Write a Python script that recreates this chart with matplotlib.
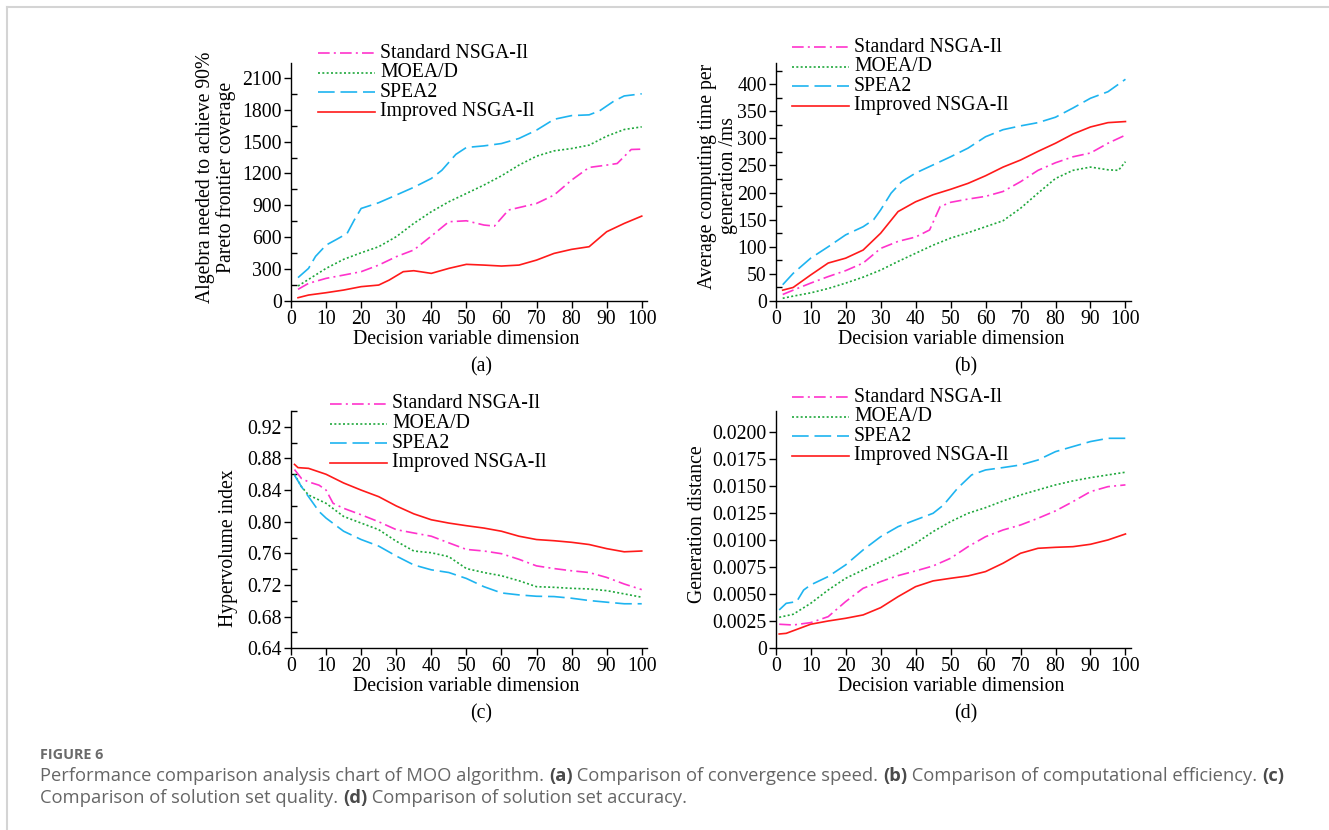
import matplotlib

matplotlib.use("Agg")
import matplotlib.pyplot as plt
from matplotlib.lines import Line2D
from matplotlib.ticker import FuncFormatter

W, H = 1329, 830
SERIF = "Liberation Serif"
FS = 14.2

NAMES = ["Standard NSGA-Il", "MOEA/D", "SPEA2", "Improved NSGA-Il"]
COLORS = ["#FF33CC", "#1FA83C", "#1EB4F0", "#FF1A1A"]
DASHES = [(7, 2.5, 1.2, 2.5), (1.2, 1.4), (10, 3.5), None]

# ---- (a) generations needed for 90% Pareto coverage
a_std_x = [2, 5, 10, 15, 20, 25, 30, 35, 40, 45, 50, 55, 58, 62, 70, 75, 80, 85, 90, 93, 97, 100]
a_std_y = [110, 166, 213, 244, 276, 338, 417, 480, 611, 746, 755, 715, 705, 856, 918, 997, 1138, 1257, 1279, 1294, 1426, 1429]
a_moe_x = [2, 10, 15, 20, 25, 30, 35, 40, 45, 50, 55, 60, 65, 70, 75, 80, 85, 90, 95, 100]
a_moe_y = [141, 307, 392, 454, 511, 605, 730, 840, 934, 1012, 1091, 1178, 1279, 1363, 1413, 1435, 1467, 1551, 1614, 1639]
a_spe_x = [2, 5, 7, 10, 13, 16, 18, 20, 25, 30, 35, 40, 43, 47, 50, 55, 60, 65, 70, 75, 80, 85, 88, 92, 95, 100]
a_spe_y = [220, 307, 420, 526, 580, 636, 760, 871, 925, 997, 1070, 1153, 1230, 1380, 1445, 1460, 1482, 1530, 1608, 1710, 1745, 1752, 1790, 1880, 1930, 1950]
a_imp_x = [2, 5, 10, 15, 20, 25, 28, 32, 35, 40, 45, 50, 55, 60, 65, 70, 75, 80, 85, 90, 95, 100]
a_imp_y = [31, 56, 78, 103, 135, 150, 197, 276, 285, 260, 307, 345, 338, 329, 338, 385, 448, 486, 511, 652, 730, 799]

# ---- (b) average computing time per generation (ms)
b_std_x = [2, 5, 10, 15, 20, 25, 30, 35, 40, 44, 47, 50, 55, 60, 65, 70, 75, 80, 85, 90, 95, 100]
b_std_y = [12, 20, 33, 45, 56, 70, 97, 110, 118, 131, 174, 182, 188, 193, 202, 220, 241, 255, 266, 273, 291, 306]
b_moe_x = [2, 5, 10, 15, 20, 25, 30, 35, 40, 45, 50, 55, 60, 65, 70, 75, 80, 85, 90, 95, 98, 100]
b_moe_y = [5, 9, 15, 23, 33, 44, 57, 73, 88, 103, 116, 126, 137, 148, 171, 199, 226, 241, 247, 242, 241, 257]
b_spe_x = [2, 5, 10, 15, 20, 25, 28, 30, 33, 36, 40, 50, 55, 60, 65, 70, 75, 80, 85, 90, 95, 100]
b_spe_y = [30, 51, 79, 100, 122, 137, 150, 168, 199, 220, 236, 266, 282, 303, 316, 323, 329, 339, 356, 374, 386, 409]
b_imp_x = [2, 5, 10, 15, 20, 25, 30, 35, 40, 45, 50, 55, 60, 65, 70, 75, 80, 85, 90, 95, 100]
b_imp_y = [20, 25, 48, 70, 79, 94, 125, 165, 183, 196, 206, 217, 231, 247, 260, 276, 291, 308, 321, 329, 331]

# ---- (c) hypervolume index
c_std_x = [1, 3, 5, 8, 10, 12, 15, 20, 25, 30, 35, 40, 45, 50, 55, 60, 65, 70, 75, 80, 85, 90, 95, 100]
c_std_y = [0.866, 0.8546, 0.8504, 0.8462, 0.840, 0.8233, 0.817, 0.8088, 0.800, 0.790, 0.7858, 0.7817,
           0.7733, 0.765, 0.763, 0.7596, 0.7525, 0.7442, 0.7408, 0.738, 0.7358, 0.7296, 0.7213, 0.7142]
c_moe_x = [1, 3, 5, 10, 15, 20, 25, 30, 35, 40, 45, 50, 55, 60, 65, 70, 75, 80, 85, 90, 95, 100]
c_moe_y = [0.860, 0.8442, 0.8338, 0.8233, 0.8067, 0.7983, 0.790, 0.7754, 0.763, 0.7608, 0.7558, 0.7408,
           0.7358, 0.7317, 0.7254, 0.7179, 0.7171, 0.7158, 0.715, 0.7129, 0.7088, 0.7046]
c_spe_x = [1, 3, 5, 8, 10, 15, 20, 25, 30, 35, 40, 45, 50, 55, 60, 65, 70, 75, 80, 85, 90, 95, 100]
c_spe_y = [0.8588, 0.8442, 0.8317, 0.8129, 0.8046, 0.788, 0.7775, 0.7692, 0.7567, 0.7454, 0.7392, 0.7358,
           0.7283, 0.7179, 0.710, 0.7075, 0.7058, 0.7054, 0.7033, 0.7004, 0.6983, 0.6963, 0.6963]
c_imp_x = [1, 2, 5, 10, 15, 20, 25, 30, 35, 40, 45, 50, 55, 60, 65, 70, 75, 80, 85, 90, 95, 100]
c_imp_y = [0.8725, 0.8684, 0.8675, 0.860, 0.849, 0.840, 0.8317, 0.820, 0.810, 0.8025, 0.7983, 0.795,
           0.792, 0.788, 0.7817, 0.7775, 0.776, 0.774, 0.7712, 0.766, 0.762, 0.763]

# ---- (d) generation distance
d_std_x = [1, 5, 10, 15, 20, 25, 30, 35, 40, 45, 50, 55, 60, 65, 70, 75, 80, 85, 90, 95, 100]
d_std_y = [0.00222, 0.00215, 0.00237, 0.00292, 0.00431, 0.00554, 0.00615, 0.00671, 0.00714, 0.0076, 0.00831,
           0.00938, 0.0103, 0.01092, 0.01138, 0.012, 0.01268, 0.01354, 0.01446, 0.01492, 0.01508]
d_moe_x = [1, 5, 10, 15, 20, 25, 30, 35, 40, 45, 50, 55, 60, 65, 70, 75, 80, 85, 90, 95, 100]
d_moe_y = [0.00286, 0.00314, 0.00415, 0.00538, 0.00646, 0.00723, 0.008, 0.00877, 0.00969, 0.01077, 0.01169,
           0.01246, 0.01298, 0.0136, 0.01415, 0.01462, 0.01508, 0.01545, 0.01575, 0.016, 0.01625]
d_spe_x = [1, 3, 6, 8, 10, 15, 20, 25, 30, 35, 40, 45, 48, 52, 56, 60, 65, 70, 75, 80, 85, 90, 95, 100]
d_spe_y = [0.00354, 0.00415, 0.00431, 0.00538, 0.00585, 0.00662, 0.0077, 0.00908, 0.0103, 0.01123, 0.01185,
           0.01246, 0.01323, 0.01477, 0.016, 0.01646, 0.01668, 0.01692, 0.01738, 0.01815, 0.01862, 0.01908,
           0.01938, 0.01938]
d_imp_x = [1, 3, 10, 15, 20, 25, 30, 35, 40, 45, 50, 55, 60, 65, 70, 75, 80, 85, 90, 95, 100]
d_imp_y = [0.00132, 0.00138, 0.00222, 0.00252, 0.00277, 0.00308, 0.00375, 0.00477, 0.00569, 0.00622, 0.00646,
           0.00668, 0.00708, 0.00785, 0.00877, 0.00923, 0.00932, 0.00938, 0.0096, 0.01, 0.01055]


def fx(x):
    return x / W


def fy(y):
    return 1 - y / H


fig = plt.figure(figsize=(W / 100, H / 100), dpi=100)


def panel(box, series, ylim, yticks, yminor, fmt, legend_xy):
    left, top, right, bottom = box
    ax = fig.add_axes([fx(left), fy(bottom), fx(right - left), (bottom - top) / H])
    for (xs, ys), c, d in zip(series, COLORS, DASHES):
        ln, = ax.plot(xs, ys, color=c, lw=1.2)
        if d:
            ln.set_dashes(d)
    ax.spines[["top", "right"]].set_visible(False)
    ax.spines[["left", "bottom"]].set_linewidth(1.0)
    ax.set_xlim(0, 101.5)
    ax.set_ylim(*ylim)
    ax.set_xticks(range(0, 101, 10))
    ax.set_yticks(yticks)
    if yminor:
        ax.set_yticks(yminor, minor=True)
        ax.tick_params(axis="y", which="minor", direction="in", length=4, width=1)
    ax.yaxis.set_major_formatter(FuncFormatter(fmt))
    ax.tick_params(which="major", direction="out", length=5, width=1, pad=1.5)
    for lab in ax.get_xticklabels() + ax.get_yticklabels():
        lab.set_fontfamily(SERIF)
        lab.set_fontsize(FS)
    # legend drawn by hand, sitting above the plot
    lx, ly = legend_xy
    for i, (name, c, d) in enumerate(zip(NAMES, COLORS, DASHES)):
        yy = ly + i * 19.6
        h = Line2D([fx(lx), fx(lx + 57)], [fy(yy), fy(yy)], color=c, lw=1.2,
                   transform=fig.transFigure)
        if d:
            h.set_dashes(d)
        fig.add_artist(h)
        fig.text(fx(lx + 62), fy(yy), name, ha="left", va="center",
                 fontfamily=SERIF, fontsize=FS)
    return ax


int_fmt = lambda v, p: f"{v:.0f}"
panel((291, 63, 647, 301),
      [(a_std_x, a_std_y), (a_moe_x, a_moe_y), (a_spe_x, a_spe_y), (a_imp_x, a_imp_y)],
      (0, 2240), range(0, 2101, 300), range(150, 2101, 300), int_fmt, (318, 53))
panel((775.7, 63, 1130.7, 301),
      [(b_std_x, b_std_y), (b_moe_x, b_moe_y), (b_spe_x, b_spe_y), (b_imp_x, b_imp_y)],
      (0, 439), range(0, 401, 50), range(25, 426, 50), int_fmt, (792, 47))
c_ticks = [0.64 + 0.04 * i for i in range(8)]
panel((291, 411, 647, 648.3),
      [(c_std_x, c_std_y), (c_moe_x, c_moe_y), (c_spe_x, c_spe_y), (c_imp_x, c_imp_y)],
      (0.64, 0.9366), c_ticks, [t + 0.02 for t in c_ticks], lambda v, p: f"{v:.2f}", (330, 404))
d_ticks = [0.0025 * i for i in range(9)]
panel((775.7, 411, 1130.7, 648.3),
      [(d_std_x, d_std_y), (d_moe_x, d_moe_y), (d_spe_x, d_spe_y), (d_imp_x, d_imp_y)],
      (0, 0.0219), d_ticks, None, lambda v, p: "0" if v == 0 else f"{v:.4f}", (792, 397))

# axis titles and panel letters
for cx, ly_, tag in [(466, 367, "(a)"), (951, 367, "(b)"), (466, 714, "(c)"), (951, 714, "(d)")]:
    fig.text(fx(cx), fy(ly_ - 28), "Decision variable dimension", ha="center", va="center",
             fontfamily=SERIF, fontsize=FS)
    fig.text(fx(cx + 15), fy(ly_), tag, ha="center", va="center", fontfamily=SERIF, fontsize=FS)

ylabels = [(216, 177, "Algebra needed to achieve 90%\nPareto frontier coverage"),
           (718, 176, "Average computing time per\ngeneration /ms"),
           (228, 548, "Hypervolume index"),
           (697, 524, "Generation distance")]
for x_, y_, s in ylabels:
    fig.text(fx(x_), fy(y_), s, rotation=90, ha="center", va="center", multialignment="center",
             fontfamily=SERIF, fontsize=FS, linespacing=1.12)

# thin page border (top and left)
fig.add_artist(Line2D([fx(7), 1], [fy(7), fy(7)], color="#D4D4D4", lw=1.5, transform=fig.transFigure))
fig.add_artist(Line2D([fx(7), fx(7)], [0, fy(7)], color="#D4D4D4", lw=1.5, transform=fig.transFigure))

# caption
CAP = "#666666"
fig.text(fx(40), fy(755), "FIGURE 6", ha="left", va="center", fontfamily="Open Sans",
         fontweight="bold", fontsize=10.4, color="#6A6A6A")

renderer = fig.canvas.get_renderer()


def runs(x, y, parts):
    for s, bold in parts:
        t = fig.text(fx(x), fy(y), s, ha="left", va="center", fontfamily="Open Sans",
                     fontsize=13.2, color=CAP if not bold else "#4A4A4A",
                     fontweight="bold" if bold else "normal")
        x += t.get_window_extent(renderer).width


runs(40, 776, [("Performance comparison analysis chart of MOO algorithm. ", False), ("(a)", True),
               (" Comparison of convergence speed. ", False), ("(b)", True),
               (" Comparison of computational efficiency. ", False), ("(c)", True)])
runs(40, 798, [("Comparison of solution set quality. ", False), ("(d)", True),
               (" Comparison of solution set accuracy.", False)])

fig.savefig("out.png", dpi=100)
